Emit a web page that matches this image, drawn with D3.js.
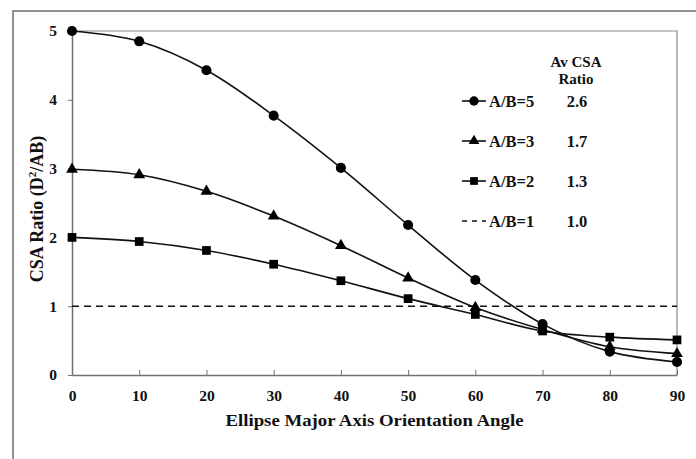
<!DOCTYPE html>
<html>
<head>
<meta charset="utf-8">
<script src="https://cdn.jsdelivr.net/npm/d3@7"></script>
<style>
  html, body { margin: 0; padding: 0; background: #fff; }
  svg { display: block; }
  text { font-family: "Liberation Serif", "Times New Roman", serif; font-weight: bold; fill: #111; }
</style>
</head>
<body>
<svg id="chart" width="696" height="459"></svg>
<script>
// Orientation angles (degrees)
const angles = [0, 10, 20, 30, 40, 50, 60, 70, 80, 90];
// CSA ratio for each aspect ratio A/B
const ab5 = [5.00, 4.85, 4.43, 3.77, 3.01, 2.18, 1.38, 0.74, 0.34, 0.19];
const ab3 = [2.99, 2.91, 2.67, 2.31, 1.88, 1.41, 0.98, 0.66, 0.41, 0.31];
const ab2 = [2.00, 1.94, 1.81, 1.61, 1.37, 1.11, 0.88, 0.64, 0.55, 0.51];
const ab1 = 1.0;
// Legend rows and average ratios
const seriesNames = ["A/B=5", "A/B=3", "A/B=2", "A/B=1"];
const avgRatios = ["2.6", "1.7", "1.3", "1.0"];
const xTicks = [0, 10, 20, 30, 40, 50, 60, 70, 80, 90];
const yTicks = [0, 1, 2, 3, 4, 5];

const svg = d3.select("#chart");
const L = 72, R = 677, T = 31, B = 375;
const x = d3.scaleLinear().domain([0, 90]).range([L, R]);
const y = d3.scaleLinear().domain([0, 5]).range([B, T]);

// outer chart frame
svg.append("rect").attr("x", 13).attr("y", 11).attr("width", 700).attr("height", 470)
  .attr("fill", "none").attr("stroke", "#6e6e6e").attr("stroke-width", 1.5);

// plot area border (top and right)
svg.append("path")
  .attr("d", `M${L},${T}H${R}V${B}`)
  .attr("fill", "none").attr("stroke", "#8a8a8a").attr("stroke-width", 1.2);

// axes
const xAxis = svg.append("g").attr("transform", `translate(0,${B})`)
  .call(d3.axisBottom(x).tickValues(xTicks).tickFormat(d3.format("d")).tickSizeInner(-5).tickSizeOuter(0));
const yAxis = svg.append("g").attr("transform", `translate(${L},0)`)
  .call(d3.axisLeft(y).tickValues(yTicks).tickFormat(d3.format("d")).tickSizeInner(4).tickSizeOuter(0).tickPadding(11));
[xAxis, yAxis].forEach(g => {
  g.attr("font-family", null);
  g.select(".domain").attr("stroke", "#707070").attr("stroke-width", 1.5);
  g.selectAll(".tick line").attr("stroke", "#707070").attr("stroke-width", 1);
  g.selectAll("text").attr("font-size", 15.5).attr("fill", "#111");
});
xAxis.selectAll(".tick text").attr("y", 15).attr("dy", "0.71em");

// reference line A/B = 1
svg.append("line")
  .attr("x1", x(0)).attr("x2", x(90)).attr("y1", y(ab1)).attr("y2", y(ab1))
  .attr("stroke", "#111").attr("stroke-width", 1.5).attr("stroke-dasharray", "7,5");

const line = d3.line().x((d, i) => x(angles[i])).y(d => y(d)).curve(d3.curveCatmullRom.alpha(0.5));

const series = [
  { vals: ab5, sym: d3.symbolCircle, size: 80 },
  { vals: ab3, sym: d3.symbolTriangle, size: 60 },
  { vals: ab2, sym: d3.symbolSquare, size: 76 }
];

series.forEach(s => {
  svg.append("path").datum(s.vals).attr("d", line)
    .attr("fill", "none").attr("stroke", "#111").attr("stroke-width", 1.6);
  svg.append("g").selectAll("path").data(s.vals).join("path")
    .attr("transform", (d, i) => `translate(${x(angles[i])},${y(d)})`)
    .attr("d", d3.symbol().type(s.sym).size(s.size))
    .attr("fill", "#000");
});

// legend
const lg = svg.append("g");
lg.append("text").attr("x", 576).attr("y", 67).attr("text-anchor", "middle").attr("font-size", 15).text("Av CSA");
lg.append("text").attr("x", 576).attr("y", 84).attr("text-anchor", "middle").attr("font-size", 15).text("Ratio");
const rowY = [101, 141, 181, 221];
const syms = [d3.symbolCircle, d3.symbolTriangle, d3.symbolSquare, null];
const symSize = [70, 50, 60];
seriesNames.forEach((name, i) => {
  const yy = rowY[i];
  if (syms[i]) {
    lg.append("line").attr("x1", 462).attr("x2", 486).attr("y1", yy).attr("y2", yy)
      .attr("stroke", "#111").attr("stroke-width", 1.6);
    lg.append("path").attr("transform", `translate(474,${yy})`)
      .attr("d", d3.symbol().type(syms[i]).size(symSize[i])).attr("fill", "#000");
  } else {
    lg.append("line").attr("x1", 462).attr("x2", 486).attr("y1", yy).attr("y2", yy)
      .attr("stroke", "#111").attr("stroke-width", 1.5).attr("stroke-dasharray", "5,5");
  }
  lg.append("text").attr("x", 489).attr("y", yy).attr("dy", "0.35em").attr("font-size", 16.5).text(name);
  lg.append("text").attr("x", 577).attr("y", yy).attr("dy", "0.35em").attr("text-anchor", "middle").attr("font-size", 16.5).text(avgRatios[i]);
});

// axis titles
svg.append("text").attr("x", (L + R) / 2).attr("y", 426).attr("text-anchor", "middle")
  .attr("font-size", 17.5).attr("textLength", 298).attr("lengthAdjust", "spacingAndGlyphs")
  .text("Ellipse Major Axis Orientation Angle");
const yt = svg.append("text").attr("transform", `translate(43,209) rotate(-90)`)
  .attr("text-anchor", "middle").attr("font-size", 18);
yt.append("tspan").text("CSA Ratio (D");
yt.append("tspan").attr("font-size", 11).attr("dy", -7).text("2");
yt.append("tspan").attr("dy", 7).text("/AB)");
</script>
</body>
</html>
